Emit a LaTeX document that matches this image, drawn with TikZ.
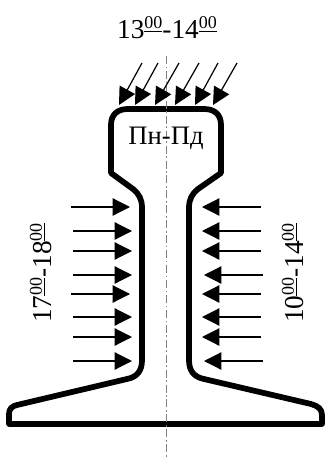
\documentclass[tikz,border=0pt]{standalone}
\usepackage{fontspec}
\setmainfont{Liberation Serif}
\usetikzlibrary{arrows.meta}
\tikzset{
    flow/.style={line width=0.9pt, -{Triangle[length=13pt,width=13pt]}},
    railline/.style={line width=4.3pt, line join=round},
    axisline/.style={gray, line width=0.75pt, dash pattern=on 6pt off 2pt on 1.2pt off 2pt},
    timelabel/.style={font=\fontsize{20.5}{22}\selectfont, inner sep=0pt}
}
\newcommand{\hourmark}[2]{#1\raisebox{0.8ex}{\fontsize{13.5}{14}\selectfont$\underline{\text{#2}}$}}
\usepackage{amsmath}
\begin{document}
\begin{tikzpicture}[x=0.75pt, y=-0.75pt]
    \useasboundingbox (0, 0) rectangle (326, 457);

    % Rail outline
    \draw[railline] (111, 173) -- (111, 125) .. controls (111, 114) and (118, 109) .. (128, 109)
        -- (204, 109) .. controls (214, 109) and (221, 114) .. (221, 125) -- (221, 173)
        -- (198, 189) .. controls (192, 194) and (189, 199) .. (189, 208) -- (189, 360)
        .. controls (189, 371) and (194, 377) .. (204, 379) -- (311, 404)
        .. controls (318, 406) and (322, 409) .. (322, 415) -- (322, 424) -- (9, 424) -- (9, 414)
        .. controls (9, 409) and (12, 406) .. (17, 405) -- (127, 379)
        .. controls (137, 377) and (142, 371) .. (142, 360) -- (142, 208)
        .. controls (142, 199) and (139, 194) .. (133, 189) -- cycle;

    % Centre line
    \draw[axisline] (166, 56) -- (166, 457);

    % Load from above
    \foreach \xa/\xb in {142/119, 158/135, 179/155, 199/175, 218/195, 237/213}
        \draw[flow] (\xa, 63) -- (\xb, 105);

    % Load from the left
    \foreach \ya/\xa in {207/71, 231/73, 251/73, 275/73, 294/71, 317/73, 337/73, 361/73}
        \draw[flow] (\xa, \ya) -- (\xa+59, \ya);

    % Load from the right
    \foreach \ya/\xa in {207/261, 231/261, 251/261, 275/263, 294/261, 317/261, 337/261, 361/263}
        \draw[flow] (\xa, \ya) -- (\xa-59, \ya);

    % Labels
    \node[timelabel] (top) at (167, 28) {\hourmark{13}{00}-\hourmark{14}{00}};
    \node[timelabel, font=\fontsize{20}{22}\selectfont] (head) at (166, 138) {Пн-Пд};
    \node[timelabel, rotate=90] (left) at (41, 273) {\hourmark{17}{00}-\hourmark{18}{00}};
    \node[timelabel, rotate=90] (right) at (293, 273) {\hourmark{10}{00}-\hourmark{14}{00}};
\end{tikzpicture}
\end{document}
